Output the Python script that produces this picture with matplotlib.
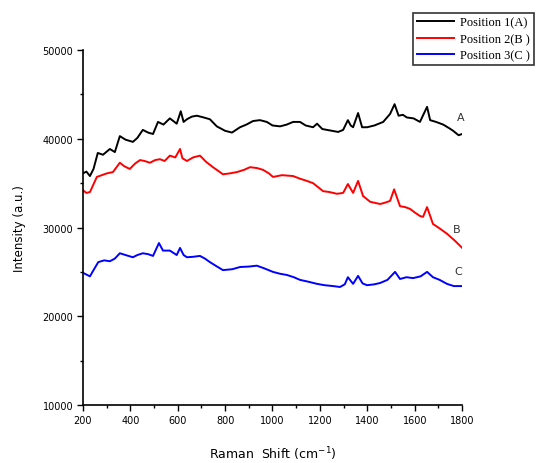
import matplotlib
matplotlib.use("Agg")
import matplotlib.pyplot as plt
from matplotlib.ticker import MultipleLocator

# Datos
x_a = [200, 215, 230, 245, 263, 285, 314, 335, 356, 380, 411, 430, 453, 475, 496, 517, 540,
       567, 596, 613, 625, 639, 660, 681, 710, 736, 765, 800, 829, 863, 890, 918, 947, 976,
       1000, 1032, 1060, 1087, 1116, 1140, 1171, 1188, 1210, 1230, 1277, 1298, 1318, 1330,
       1340, 1361, 1378, 1399, 1430, 1467, 1496, 1515, 1532, 1550, 1567, 1595, 1622, 1652,
       1665, 1690, 1720, 1745, 1762, 1785, 1800]
y_a = [36100, 36300, 35800, 36600, 38400, 38200, 38850, 38500, 40300, 39900, 39650, 40100,
       41000, 40700, 40540, 41900, 41600, 42300, 41700, 43100, 41900, 42200, 42500, 42600,
       42400, 42200, 41400, 40900, 40700, 41300, 41600, 42000, 42100, 41900, 41500, 41400,
       41600, 41900, 41900, 41500, 41300, 41700, 41100, 41000, 40770, 41000, 42100, 41500,
       41300, 42900, 41300, 41300, 41500, 41900, 42800, 43900, 42600, 42700, 42400, 42300,
       41900, 43600, 42100, 41900, 41600, 41200, 40900, 40400, 40540]

x_b = [200, 215, 230, 259, 280, 301, 327, 356, 375, 398, 420, 441, 460, 483, 505, 525, 545,
       567, 590, 610, 620, 639, 665, 694, 720, 749, 770, 791, 820, 850, 880, 905, 935, 960,
       985, 1002, 1040, 1087, 1116, 1140, 1171, 1190, 1213, 1240, 1272, 1298, 1318, 1340,
       1361, 1382, 1412, 1454, 1475, 1496, 1513, 1538, 1560, 1580, 1600, 1622, 1635, 1652,
       1677, 1705, 1736, 1770, 1800]
y_b = [34200, 33900, 34000, 35700, 35900, 36100, 36250, 37300, 36900, 36600, 37200, 37600,
       37500, 37300, 37600, 37700, 37500, 38100, 37900, 38850, 37800, 37500, 37900, 38100,
       37400, 36800, 36400, 36000, 36100, 36250, 36500, 36800, 36700, 36500, 36100, 35700,
       35900, 35800, 35500, 35300, 35000, 34600, 34100, 34000, 33800, 33900, 34900, 33900,
       35250, 33550, 32900, 32650, 32800, 33000, 34300, 32400, 32300, 32100, 31700, 31300,
       31200, 32300, 30400, 29900, 29300, 28500, 27700]

x_c = [200, 215, 230, 245, 265, 290, 314, 335, 356, 380, 411, 430, 453, 475, 496, 521, 538,
       567, 596, 610, 625, 639, 665, 694, 715, 736, 760, 791, 830, 863, 900, 934, 965, 1002,
       1030, 1061, 1090, 1116, 1150, 1188, 1220, 1256, 1285, 1305, 1318, 1340, 1361, 1380,
       1399, 1430, 1454, 1485, 1517, 1538, 1565, 1593, 1625, 1652, 1677, 1705, 1736, 1765,
       1800]
y_c = [24900, 24700, 24500, 25200, 26100, 26300, 26200, 26500, 27100, 26900, 26650, 26900,
       27100, 27000, 26800, 28250, 27400, 27400, 26900, 27700, 26900, 26650, 26700, 26800,
       26500, 26100, 25700, 25200, 25300, 25550, 25600, 25700, 25400, 25000, 24800, 24650,
       24400, 24100, 23900, 23650, 23500, 23400, 23300, 23600, 24400, 23650, 24550, 23700,
       23500, 23600, 23750, 24100, 25000, 24200, 24400, 24300, 24500, 25000, 24400, 24100,
       23650, 23400, 23400]

etiquetas = ['Position 1(A)', 'Position 2(B )', 'Position 3(C )']
letras = ['A', 'B', 'C']
pos_letras = [(1795, 41900), (1775, 29300), (1785, 24500)]

# Grafica
fig = plt.figure(figsize=(5.38, 4.64), dpi=100)
ax = fig.add_axes([0.154, 0.125, 0.705, 0.765])

ax.plot(x_a, y_a, color='black', lw=1.4, label=etiquetas[0])
ax.plot(x_b, y_b, color='red', lw=1.4, label=etiquetas[1])
ax.plot(x_c, y_c, color='blue', lw=1.4, label=etiquetas[2])

for letra, (lx, ly) in zip(letras, pos_letras):
    ax.text(lx, ly, letra, fontsize=8, ha='center', va='bottom', color='#333333')

ax.set_xlim(200, 1800)
ax.set_ylim(10000, 50000)
ax.xaxis.set_major_locator(MultipleLocator(200))
ax.xaxis.set_minor_locator(MultipleLocator(100))
ax.yaxis.set_major_locator(MultipleLocator(10000))
ax.yaxis.set_minor_locator(MultipleLocator(5000))

for lado in ['top', 'right']:
    ax.spines[lado].set_visible(False)
for lado in ['left', 'bottom']:
    ax.spines[lado].set_linewidth(1.2)

ax.tick_params(which='major', direction='out', length=4, width=1, labelsize=7, pad=3)
ax.tick_params(which='minor', direction='out', length=2.5, width=1)

ax.set_xlabel('Raman  Shift (cm$^{-1}$)', fontsize=9, labelpad=14)
ax.set_ylabel('Intensity (a.u.)', fontsize=8.5, labelpad=12)

leg = ax.legend(loc='upper right', bbox_to_anchor=(534 / 538, 1 - 14 / 464),
                bbox_transform=fig.transFigure, borderaxespad=0, fancybox=False,
                framealpha=1, edgecolor='#333333', handlelength=3.0,
                prop={'family': 'Liberation Serif', 'size': 9},
                labelspacing=0.35, borderpad=0.3, handletextpad=0.5)
leg.get_frame().set_linewidth(1.2)

fig.savefig('out.png', dpi=100)
